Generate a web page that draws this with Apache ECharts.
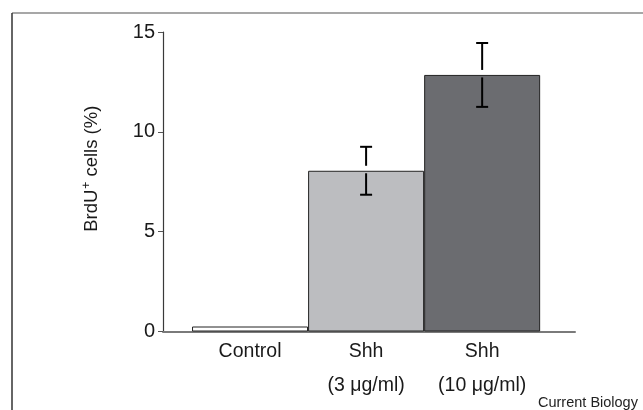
<!DOCTYPE html>
<html>
<head>
<meta charset="utf-8">
<script src="https://cdn.jsdelivr.net/npm/echarts@6/dist/echarts.min.js"></script>
<style>
  html, body { margin: 0; padding: 0; background: #fff; }
  #main { width: 643px; height: 410px; }
</style>
</head>
<body>
<div id="main"></div>
<script>
// values
var categories = ['Control', 'Shh\n(3 \u03bcg/ml)', 'Shh\n(10 \u03bcg/ml)'];
var positions = [1, 2, 3];
var means = [0.25, 8.05, 12.85];
var errors = [0, 1.2, 1.6];
var yTicks = [0, 5, 10, 15];

var barColors = ['#ffffff', '#bcbdc0', '#6b6c70'];
var FONT = '"Liberation Sans", Arial, sans-serif';

var barData = [], errData = [];
for (var i = 0; i < means.length; i++) {
    barData.push({ value: [positions[i], means[i]], itemStyle: { color: barColors[i] } });
    if (errors[i] > 0) {
        errData.push([positions[i], means[i], means[i] - errors[i], means[i] + errors[i]]);
    }
}

var myChart = echarts.init(document.getElementById('main'));
var option = {
    animation: false,
    backgroundColor: '#fff',
    textStyle: { fontFamily: FONT },
    grid: { left: 163, right: 68, top: 32, bottom: 78.5 },
    xAxis: {
        type: 'value',
        min: 0.25,
        max: 3.8,
        splitLine: { show: false },
        axisTick: { show: false },
        axisLine: { show: true, onZero: false, lineStyle: { color: '#7a7a7a', width: 2 } },
        axisLabel: {
            customValues: positions,
            margin: 3,
            color: '#1a1a1a',
            fontSize: 19.5,
            fontFamily: FONT,
            lineHeight: 34,
            formatter: function (v) { return categories[positions.indexOf(v)] || ''; }
        }
    },
    yAxis: {
        type: 'value',
        min: yTicks[0],
        max: yTicks[yTicks.length - 1],
        interval: 5,
        splitLine: { show: false },
        axisLine: { show: true, lineStyle: { color: '#3a3a3a', width: 1.2 } },
        axisTick: { show: true, length: 5, lineStyle: { color: '#555', width: 1 } },
        axisLabel: { color: '#1a1a1a', fontSize: 20, margin: 8, fontFamily: FONT },
        name: '{a|BrdU}{s|+}{a| cells (%)}',
        nameLocation: 'middle',
        nameGap: 61,
        nameRotate: 90,
        nameTextStyle: {
            padding: [0, 0, 0, 26],
            rich: {
                a: { fontSize: 18.5, color: '#1a1a1a', fontFamily: FONT },
                s: { fontSize: 12, color: '#1a1a1a', fontFamily: FONT, padding: [0, 0, 9, 1] }
            }
        }
    },
    series: [
        {
            type: 'bar',
            barWidth: 116,
            data: barData,
            itemStyle: { borderColor: '#222', borderWidth: 1 },
            z: 2
        },
        {
            type: 'custom',
            data: errData,
            z: 3,
            renderItem: function (params, api) {
                var x = api.value(0);
                var top = api.coord([x, api.value(1)]);
                var lo = api.coord([x, api.value(2)]);
                var hi = api.coord([x, api.value(3)]);
                var cx = top[0], hw = 6;
                var st = { stroke: '#000', lineWidth: 2 };
                return {
                    type: 'group',
                    children: [
                        { type: 'line', shape: { x1: cx, y1: hi[1], x2: cx, y2: top[1] - 5 }, style: st },
                        { type: 'line', shape: { x1: cx, y1: top[1] + 2.5, x2: cx, y2: lo[1] }, style: st },
                        { type: 'line', shape: { x1: cx - hw, y1: hi[1], x2: cx + hw, y2: hi[1] }, style: st },
                        { type: 'line', shape: { x1: cx - hw, y1: lo[1], x2: cx + hw, y2: lo[1] }, style: st }
                    ]
                };
            }
        }
    ],
    graphic: [
        { type: 'line', shape: { x1: 12, y1: 13, x2: 643, y2: 13 }, style: { stroke: '#8a8a8a', lineWidth: 1.5 } },
        { type: 'line', shape: { x1: 12, y1: 13, x2: 12, y2: 410 }, style: { stroke: '#333', lineWidth: 1.5 } },
        {
            type: 'text', left: 538, top: 395,
            style: { text: 'Current Biology', font: '14.5px ' + FONT, fill: '#222' }
        }
    ]
};
myChart.setOption(option);
</script>
</body>
</html>
